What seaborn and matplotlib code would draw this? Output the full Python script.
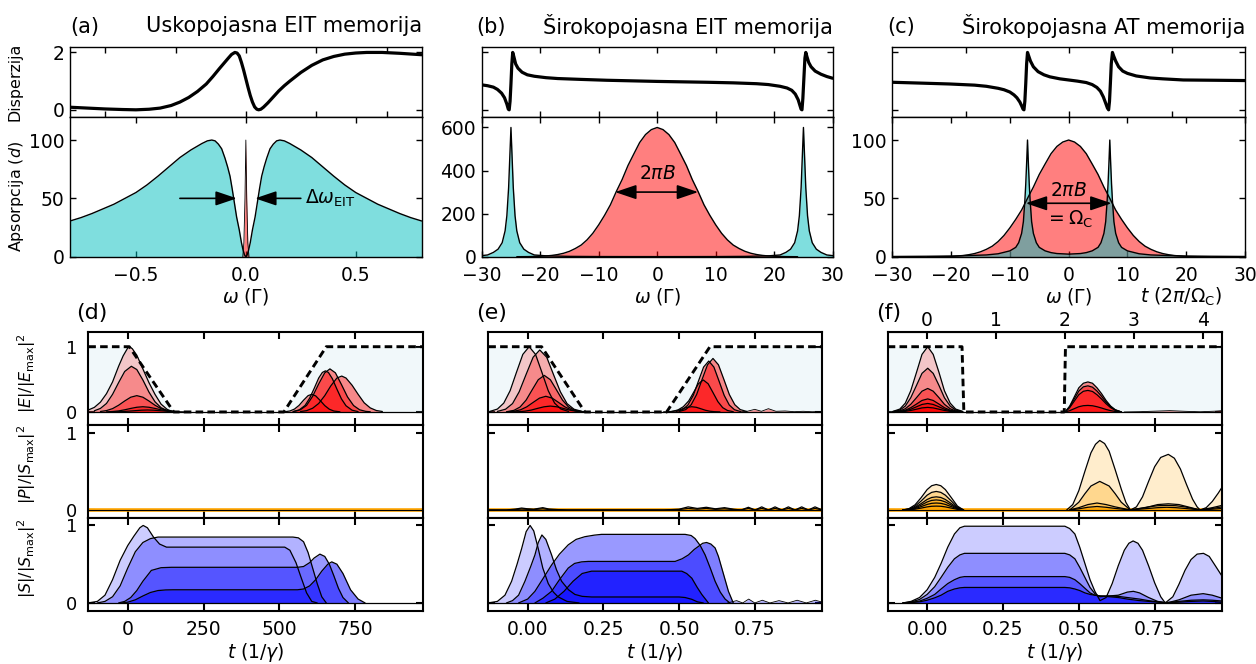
import matplotlib
matplotlib.use("Agg")
import matplotlib.pyplot as plt
import seaborn as sns

sns.set_style("ticks")
plt.rcParams["font.family"] = ["DejaVu Sans"]
plt.rcParams["mathtext.fontset"] = "dejavusans"
for key in ["text.color", "axes.labelcolor", "xtick.color", "ytick.color", "axes.edgecolor"]:
    plt.rcParams[key] = "black"

# ===================== DATA =====================
# ---- (a) narrowband EIT ----
A_DISP_X = [-0.8, -0.72, -0.64, -0.56, -0.5, -0.44, -0.39, -0.34, -0.3, -0.26, -0.22, -0.18, -0.15, -0.12, -0.1,
            -0.08, -0.065, -0.05, -0.04, -0.03, -0.02, -0.01, 0.0, 0.01, 0.02, 0.03, 0.04, 0.05, 0.058, 0.068,
            0.08, 0.1, 0.125, 0.15, 0.175, 0.2, 0.25, 0.3, 0.35, 0.4, 0.45, 0.5, 0.55, 0.62, 0.7, 0.8]
A_DISP_Y = [0.09, 0.06, 0.03, 0.01, 0.0, 0.02, 0.06, 0.15, 0.27, 0.43, 0.64, 0.9, 1.16, 1.44, 1.62,
            1.8, 1.93, 2.0, 1.98, 1.88, 1.65, 1.38, 1.08, 0.78, 0.5, 0.27, 0.1, 0.02, 0.0, 0.02,
            0.09, 0.24, 0.45, 0.66, 0.84, 1.0, 1.3, 1.55, 1.74, 1.86, 1.94, 1.98, 2.0, 2.0, 1.97, 1.92]
A_ABS_X = [-0.8, -0.75, -0.7, -0.65, -0.6, -0.55, -0.5, -0.45, -0.4, -0.35, -0.3, -0.25, -0.2, -0.175, -0.155,
           -0.14, -0.125, -0.11, -0.095, -0.083, -0.072, -0.062, -0.052, -0.042, -0.03, -0.02, -0.013, -0.006, 0.0,
           0.006, 0.013, 0.02, 0.03, 0.042, 0.052, 0.062, 0.072, 0.083, 0.095, 0.11, 0.125, 0.14, 0.155, 0.175,
           0.2, 0.25, 0.3, 0.35, 0.4, 0.45, 0.5, 0.55, 0.6, 0.65, 0.7, 0.75, 0.8]
A_ABS_Y = [30.6, 33.5, 37, 41, 45, 50, 55, 61.5, 69, 77, 85, 91.5, 97, 99.3, 100,
           99.3, 96.5, 92.5, 84.5, 77, 69, 58, 46, 34, 23, 12, 6, 1.5, 0,
           1.5, 6, 12, 23, 34, 46, 58, 69, 77, 84.5, 92.5, 96.5, 99.3, 100, 99.3,
           97, 91.5, 85, 77, 69, 61.5, 55, 50, 45, 41, 37, 33.5, 30.6]
A_PULSE_X = [-0.014, -0.009, -0.004, 0.0, 0.004, 0.009, 0.014]
A_PULSE_Y = [0, 12, 50, 100, 50, 12, 0]

# ---- (b) broadband EIT ----
B_DISP_X = [-30, -29, -28, -27.3, -26.6, -26.1, -25.7, -25.45, -25.3, -25.15, -25.0, -24.85, -24.7, -24.5, -24.2,
            -23.8, -23.1, -22.2, -21, -19, -17, -13, -8.6, 0, 8.6, 13, 17, 19, 21, 22.2, 23, 23.6, 24.1, 24.4,
            24.6, 24.75, 24.9, 25.1, 25.25, 25.4, 25.6, 25.9, 26.3, 27, 28, 29, 30]
B_DISP_Y = [0.87, 0.84, 0.79, 0.71, 0.58, 0.42, 0.2, 0.02, 0.0, 0.3, 0.9, 1.6, 2.0, 1.85, 1.6,
            1.45, 1.31, 1.22, 1.17, 1.12, 1.09, 1.06, 1.03, 0.99, 0.96, 0.94, 0.91, 0.88, 0.82, 0.76, 0.68, 0.55,
            0.35, 0.15, 0.02, 0.0, 0.4, 1.2, 1.8, 2.0, 1.85, 1.65, 1.5, 1.35, 1.24, 1.16, 1.1]
B_ABS_X = [-30, -29, -28, -27.2, -26.5, -26, -25.7, -25.4, -25.2, -25, -24.8, -24.6, -24.3, -24, -23.5, -22.8,
           -22, -21, -19, -15, -10, -5, 0, 5, 10, 15, 19, 21, 22, 22.8, 23.5, 24, 24.3, 24.6, 24.8, 25,
           25.2, 25.4, 25.7, 26, 26.5, 27.2, 28, 29, 30]
B_ABS_Y = [5, 8, 20, 35, 65, 120, 190, 320, 460, 600, 460, 320, 190, 120, 65, 35,
           20, 8, 4, 1.5, 0.7, 0.5, 0.4, 0.5, 0.7, 1.5, 4, 8, 20, 35, 65, 120, 190, 320, 460, 600,
           460, 320, 190, 120, 65, 35, 20, 8, 5]
B_PULSE_X = [-24, -22, -20, -19, -18, -17, -16, -15, -14, -13, -12, -11, -10, -9, -8, -7, -6, -5, -4, -3, -2, -1,
             0, 1, 2, 3, 4, 5, 6, 7, 8, 9, 10, 11, 12, 13, 14, 15, 16, 17, 18, 19, 20, 22, 24]
B_PULSE_Y = [0, 0.5, 2, 3.5, 6, 10, 16, 25, 38, 54, 78, 109, 148, 192, 241, 302, 358, 423, 477, 530, 567, 590,
             600, 590, 567, 530, 477, 423, 358, 302, 241, 192, 148, 109, 78, 54, 38, 25, 16, 10, 6, 3.5, 2, 0.5, 0]

# ---- (c) broadband AT ----
C_DISP_X = [-30, -25, -20.2, -16, -14, -12, -11, -10, -9.3, -8.8, -8.3, -8.0, -7.75, -7.6, -7.45, -7.3, -7.15,
            -7.0, -6.8, -6.5, -6.0, -5.2, -4.2, -3.2, -1.5, 0, 1.5, 3, 4, 4.8, 5.4, 5.9, 6.3, 6.6, 6.8, 6.95,
            7.1, 7.25, 7.45, 7.65, 8.0, 8.5, 9.2, 10, 11.5, 13.9, 16, 19.5, 25, 30]
C_DISP_Y = [0.96, 0.93, 0.9, 0.86, 0.82, 0.75, 0.7, 0.62, 0.52, 0.42, 0.27, 0.14, 0.02, 0.0, 0.3, 0.9, 1.6,
            2.0, 1.88, 1.7, 1.5, 1.33, 1.22, 1.15, 1.08, 1.04, 1.0, 0.95, 0.88, 0.78, 0.65, 0.45, 0.23, 0.06, 0.0,
            0.3, 0.92, 1.6, 2.0, 1.88, 1.7, 1.5, 1.35, 1.27, 1.18, 1.11, 1.08, 1.04, 1.03, 1.02]
C_ABS_X = [-30, -20, -14, -12, -10, -9, -8.5, -8, -7.7, -7.45, -7.3, -7.15, -7, -6.85, -6.7, -6.55, -6.3, -6,
           -5.5, -5, -4, -3, -2, 0, 2, 3, 4, 5, 5.5, 6, 6.3, 6.55, 6.7, 6.85, 7, 7.15, 7.3, 7.45, 7.7, 8,
           8.5, 9, 10, 12, 14, 20, 30]
C_ABS_Y = [0.2, 0.5, 1.5, 2.5, 5, 8, 12, 20, 30, 48, 62, 80, 100, 80, 62, 48, 30, 20,
           12, 8, 5, 3.5, 2.7, 2.2, 2.7, 3.5, 5, 8, 12, 20, 30, 48, 62, 80, 100, 80, 62, 48, 30, 20,
           12, 8, 5, 2.5, 1.5, 0.5, 0.2]
C_PULSE_X = B_PULSE_X
C_PULSE_Y = [0, 0.1, 0.3, 0.6, 1, 1.7, 2.7, 4.2, 6.3, 9, 13, 18.2, 24.7, 32, 40, 50, 59.7, 70.5, 79.5, 88.3,
             94.5, 98.3, 100, 98.3, 94.5, 88.3, 79.5, 70.5, 59.7, 50, 40, 32, 24.7, 18.2, 13, 9, 6.3, 4.2, 2.7,
             1.7, 1, 0.6, 0.3, 0.1, 0]

# ---- (d) narrowband EIT, time domain (t in 1/gamma) ----
D_CTRL_T = [-130, 5, 152, 515, 655, 973]
D_CTRL_Y = [1, 1, 0, 0, 1, 1]
D_EIN_T = [
    [-130, -110, -90, -70, -50, -30, -15, 0, 5, 15, 30, 50, 70, 90, 110, 130, 150],
    [-110, -90, -70, -50, -30, -10, 12, 30, 50, 70, 90, 110, 130, 150],
    [-90, -70, -50, -30, -10, 10, 30, 50, 70, 90, 110, 130, 150],
    [-70, -50, -30, -10, 10, 30, 50, 70, 90, 110, 130, 150, 170],
    [-55, -35, -15, 5, 25, 45, 65, 85, 105, 125, 145, 165, 185],
]
D_EIN_Y = [
    [0.03, 0.07, 0.15, 0.28, 0.46, 0.7, 0.86, 0.98, 1.0, 0.97, 0.87, 0.66, 0.45, 0.27, 0.12, 0.04, 0.0],
    [0.018, 0.054, 0.13, 0.27, 0.45, 0.62, 0.70, 0.65, 0.49, 0.305, 0.156, 0.065, 0.022, 0.006],
    [0.007, 0.021, 0.051, 0.103, 0.168, 0.226, 0.25, 0.226, 0.168, 0.103, 0.051, 0.021, 0.007],
    [0.002, 0.007, 0.016, 0.033, 0.054, 0.072, 0.08, 0.072, 0.054, 0.033, 0.016, 0.007, 0.002],
    [0.001, 0.003, 0.007, 0.013, 0.02, 0.027, 0.03, 0.027, 0.02, 0.013, 0.007, 0.003, 0.001],
]
D_EOUT_T = [
    [570, 590, 610, 630, 650, 670, 690, 706, 720, 740, 760, 780, 800, 820, 840],
    [550, 570, 590, 610, 630, 650, 667, 685, 705, 725, 745, 765, 785, 800],
    [545, 565, 585, 600, 615, 630, 642, 652, 662, 675, 690, 705, 720, 740, 760],
    [520, 535, 550, 565, 580, 595, 607, 620, 635, 650, 665, 680, 700],
]
D_EOUT_Y = [
    [0.006, 0.02, 0.057, 0.13, 0.25, 0.40, 0.52, 0.55, 0.52, 0.41, 0.27, 0.14, 0.062, 0.022, 0.007],
    [0.009, 0.035, 0.10, 0.24, 0.43, 0.60, 0.66, 0.60, 0.42, 0.23, 0.098, 0.033, 0.009, 0.003],
    [0.006, 0.029, 0.10, 0.21, 0.36, 0.52, 0.605, 0.63, 0.605, 0.51, 0.35, 0.20, 0.095, 0.027, 0.005],
    [0.004, 0.015, 0.044, 0.10, 0.18, 0.25, 0.27, 0.246, 0.175, 0.097, 0.042, 0.014, 0.002],
]
D_S_T = [
    [-130, -100, -75, -50, -25, 0, 20, 40, 51, 65, 85, 105, 128, 300, 518, 535, 555, 570, 590, 607, 625],
    [-100, -75, -50, -25, 0, 25, 50, 75, 100, 125, 300, 545, 563, 580, 595, 610, 625, 640, 655],
    [-30, -10, 10, 30, 50, 78, 110, 144, 300, 560, 580, 600, 615, 634, 650, 665, 680, 695, 710, 728],
    [-20, 0, 25, 50, 75, 100, 125, 150, 300, 560, 580, 600, 620, 640, 660, 673, 690, 710, 735, 760, 783],
]
D_S_Y = [
    [0, 0.02, 0.1, 0.3, 0.55, 0.74, 0.86, 0.97, 1.0, 0.97, 0.85, 0.76, 0.72, 0.72, 0.72, 0.68, 0.52, 0.35, 0.13,
     0.02, 0],
    [0, 0.02, 0.08, 0.22, 0.45, 0.66, 0.78, 0.83, 0.85, 0.85, 0.85, 0.85, 0.84, 0.79, 0.65, 0.45, 0.25, 0.08, 0],
    [0, 0.02, 0.07, 0.16, 0.28, 0.42, 0.455, 0.46, 0.46, 0.46, 0.47, 0.52, 0.58, 0.63, 0.6, 0.5, 0.35, 0.19, 0.07, 0],
    [0, 0.01, 0.04, 0.09, 0.135, 0.16, 0.168, 0.17, 0.17, 0.17, 0.18, 0.22, 0.3, 0.41, 0.5, 0.53, 0.5, 0.38, 0.17,
     0.05, 0],
]

# ---- (e) broadband EIT, time domain ----
E_CTRL_T = [-0.13, 0.046, 0.189, 0.459, 0.602, 0.973]
E_CTRL_Y = [1, 1, 0, 0, 1, 1]
E_EIN_T = [
    [-0.125, -0.1, -0.079, -0.058, -0.037, -0.016, 0.005, 0.026, 0.047, 0.068, 0.089, 0.11, 0.135],
    [-0.1, -0.073, -0.05, -0.028, -0.005, 0.018, 0.04, 0.063, 0.085, 0.108, 0.13, 0.153, 0.18],
    [-0.069, -0.045, -0.025, -0.005, 0.015, 0.035, 0.055, 0.075, 0.095, 0.115, 0.135, 0.155, 0.179],
    [-0.07, -0.045, -0.024, -0.003, 0.018, 0.039, 0.06, 0.081, 0.102, 0.123, 0.144, 0.165, 0.19],
    [-0.055, -0.03, -0.009, 0.012, 0.033, 0.054, 0.075, 0.096, 0.117, 0.138, 0.159, 0.18, 0.205],
]
E_EIN_Y = [
    [0.008, 0.044, 0.135, 0.325, 0.607, 0.882, 1.0, 0.882, 0.607, 0.325, 0.135, 0.044, 0.008],
    [0.008, 0.042, 0.128, 0.309, 0.577, 0.838, 0.95, 0.838, 0.577, 0.309, 0.128, 0.042, 0.008],
    [0.004, 0.025, 0.076, 0.182, 0.34, 0.494, 0.56, 0.494, 0.34, 0.182, 0.076, 0.025, 0.004],
    [0.002, 0.011, 0.032, 0.078, 0.146, 0.212, 0.24, 0.212, 0.146, 0.078, 0.032, 0.011, 0.002],
    [0.001, 0.004, 0.012, 0.029, 0.055, 0.079, 0.09, 0.079, 0.055, 0.029, 0.012, 0.004, 0.001],
]
E_EOUT_T = [
    [0.5, 0.522, 0.54, 0.558, 0.576, 0.594, 0.612, 0.63, 0.648, 0.666, 0.684, 0.702, 0.724],
    [0.49, 0.511, 0.529, 0.547, 0.564, 0.581, 0.598, 0.615, 0.632, 0.649, 0.666, 0.683, 0.703],
    [0.475, 0.496, 0.514, 0.532, 0.548, 0.564, 0.58, 0.596, 0.612, 0.628, 0.644, 0.66, 0.679],
    [0.449, 0.467, 0.482, 0.497, 0.512, 0.527, 0.542, 0.557, 0.572, 0.587, 0.602, 0.617, 0.635],
]
E_EOUT_Y = [
    [0.007, 0.036, 0.111, 0.267, 0.498, 0.723, 0.82, 0.723, 0.498, 0.267, 0.111, 0.036, 0.007],
    [0.006, 0.034, 0.105, 0.254, 0.473, 0.688, 0.78, 0.688, 0.473, 0.254, 0.105, 0.034, 0.006],
    [0.006, 0.03, 0.08, 0.17, 0.3, 0.432, 0.49, 0.432, 0.297, 0.159, 0.066, 0.022, 0.004],
    [0.001, 0.004, 0.011, 0.026, 0.049, 0.071, 0.08, 0.071, 0.049, 0.026, 0.011, 0.004, 0.001],
]
E_ETAIL_T = [0.7, 0.725, 0.75, 0.772, 0.795, 0.82, 0.85, 0.88, 0.91, 0.94, 0.973]
E_ETAIL_Y = [0, 0.01, 0.04, 0.01, 0.05, 0.01, 0.015, 0.004, 0.01, 0.003, 0.008]
E_P_T = [-0.13, -0.07, -0.04, -0.02, 0.0, 0.02, 0.05, 0.07, 0.1, 0.13, 0.45, 0.5, 0.53, 0.56, 0.59, 0.62, 0.65,
         0.68, 0.705, 0.729, 0.751, 0.773, 0.795, 0.817, 0.839, 0.861, 0.883, 0.905, 0.927, 0.949, 0.973]
E_P_Y = [
    [0, 0, 0.012, 0.025, 0.015, 0.01, 0.03, 0.012, 0.005, 0, 0, 0.01, 0.04, 0.02, 0.035, 0.015, 0.03, 0.01,
     0.0, 0.035, 0.0, 0.04, 0.0, 0.04, 0.0, 0.04, 0.0, 0.04, 0.0, 0.04, 0.0],
    [0, 0, 0.005, 0.012, 0.008, 0.005, 0.015, 0.006, 0.002, 0, 0, 0.005, 0.02, 0.01, 0.02, 0.008, 0.015, 0.005,
     0.0, 0.02, 0.0, 0.02, 0.0, 0.02, 0.0, 0.02, 0.0, 0.02, 0.0, 0.02, 0.0],
]
E_S_T = [
    [-0.13, -0.1, -0.075, -0.053, -0.035, -0.02, -0.005, 0.008, 0.02, 0.035, 0.05, 0.068, 0.085, 0.1, 0.13, 0.17],
    [-0.07, -0.05, -0.03, -0.009, 0.01, 0.024, 0.035, 0.047, 0.06, 0.079, 0.095, 0.112, 0.135, 0.156, 0.18,
     0.211, 0.5, 0.52, 0.542, 0.56, 0.58],
    [-0.03, 0.0, 0.024, 0.05, 0.079, 0.105, 0.134, 0.16, 0.189, 0.22, 0.244, 0.52, 0.54, 0.553, 0.57, 0.586,
     0.603, 0.619, 0.636, 0.652, 0.668],
    [0.024, 0.05, 0.079, 0.105, 0.134, 0.155, 0.178, 0.2, 0.487, 0.51, 0.531, 0.55, 0.564, 0.578, 0.591, 0.605,
     0.619, 0.63, 0.641, 0.652, 0.663, 0.679],
    [0.06, 0.09, 0.12, 0.15, 0.18, 0.211, 0.509, 0.525, 0.542, 0.56, 0.575, 0.597],
]
E_S_Y = [
    [0, 0.02, 0.1, 0.28, 0.5, 0.7, 0.92, 1.0, 0.93, 0.7, 0.45, 0.25, 0.14, 0.08, 0.02, 0],
    [0, 0.03, 0.1, 0.28, 0.47, 0.62, 0.78, 0.877, 0.82, 0.62, 0.43, 0.28, 0.17, 0.11, 0.085, 0.077, 0.077, 0.07,
     0.047, 0.015, 0],
    [0, 0.05, 0.15, 0.31, 0.49, 0.63, 0.75, 0.82, 0.855, 0.875, 0.885, 0.885, 0.87, 0.83, 0.74, 0.62, 0.45, 0.28,
     0.14, 0.05, 0],
    [0, 0.06, 0.15, 0.3, 0.45, 0.51, 0.53, 0.536, 0.536, 0.57, 0.62, 0.69, 0.73, 0.77, 0.78, 0.76, 0.71, 0.6,
     0.45, 0.3, 0.15, 0],
    [0, 0.05, 0.15, 0.28, 0.38, 0.41, 0.41, 0.38, 0.32, 0.2, 0.11, 0],
]
E_STAIL_T = [0.66, 0.69, 0.71, 0.73, 0.75, 0.775, 0.8, 0.83, 0.86, 0.89, 0.92, 0.95, 0.973]
E_STAIL_Y = [0, 0.03, 0.0, 0.05, 0.0, 0.035, 0.0, 0.03, 0.0, 0.035, 0.0, 0.035, 0.01]

# ---- (f) broadband AT, time domain ----
F_CTRL_T = [-0.13, 0.115, 0.121, 0.452, 0.456, 0.973]
F_CTRL_Y = [1, 1, 0, 0, 1, 1]
F_EIN_T = [-0.113, -0.09, -0.072, -0.054, -0.035, -0.017, 0.002, 0.02, 0.039, 0.057, 0.076, 0.094, 0.117]
F_EIN_Y = [
    [0.008, 0.044, 0.135, 0.325, 0.607, 0.882, 1.0, 0.882, 0.607, 0.325, 0.135, 0.044, 0.008],
    [0.005, 0.029, 0.09, 0.218, 0.407, 0.591, 0.67, 0.591, 0.407, 0.218, 0.09, 0.029, 0.005],
    [0.003, 0.016, 0.049, 0.117, 0.219, 0.318, 0.36, 0.318, 0.219, 0.117, 0.049, 0.016, 0.003],
    [0.002, 0.009, 0.027, 0.065, 0.121, 0.176, 0.2, 0.176, 0.121, 0.065, 0.027, 0.009, 0.002],
    [0.001, 0.006, 0.018, 0.042, 0.079, 0.115, 0.13, 0.115, 0.079, 0.042, 0.018, 0.006, 0.001],
    [0.001, 0.003, 0.009, 0.023, 0.042, 0.062, 0.07, 0.062, 0.042, 0.023, 0.009, 0.003, 0.001],
]
F_EOUT_T = [0.455, 0.47, 0.485, 0.5, 0.515, 0.53, 0.545, 0.56, 0.575, 0.59, 0.605, 0.62, 0.64]
F_EOUT_Y = [
    [0, 0.09, 0.23, 0.37, 0.44, 0.46, 0.44, 0.37, 0.28, 0.175, 0.09, 0.035, 0],
    [0, 0.08, 0.2, 0.32, 0.385, 0.4, 0.38, 0.32, 0.24, 0.15, 0.08, 0.03, 0],
    [0, 0.066, 0.165, 0.264, 0.317, 0.33, 0.314, 0.264, 0.198, 0.125, 0.066, 0.026, 0],
    [0, 0.02, 0.05, 0.08, 0.096, 0.1, 0.095, 0.08, 0.06, 0.038, 0.02, 0.008, 0],
]
F_ETAIL_T = [0.65, 0.7, 0.75, 0.8, 0.85, 0.9, 0.95, 0.973]
F_ETAIL_Y = [0, 0.004, 0.012, 0.02, 0.01, 0.003, 0.012, 0.02]
F_PIN_T = [-0.08, -0.06, -0.04, -0.02, 0.0, 0.015, 0.03, 0.045, 0.06, 0.08, 0.1, 0.12]
F_PIN_Y = [
    [0, 0.017, 0.066, 0.158, 0.264, 0.314, 0.33, 0.314, 0.264, 0.158, 0.05, 0],
    [0, 0.012, 0.048, 0.115, 0.192, 0.228, 0.24, 0.228, 0.192, 0.115, 0.036, 0],
    [0, 0.009, 0.034, 0.082, 0.136, 0.162, 0.17, 0.162, 0.136, 0.082, 0.026, 0],
    [0, 0.007, 0.026, 0.062, 0.104, 0.124, 0.13, 0.124, 0.104, 0.062, 0.02, 0],
    [0, 0.005, 0.018, 0.043, 0.072, 0.086, 0.09, 0.086, 0.072, 0.043, 0.014, 0],
    [0, 0.003, 0.01, 0.024, 0.04, 0.048, 0.05, 0.048, 0.04, 0.024, 0.008, 0],
]
F_POUT_T = [
    [0.46, 0.48, 0.5, 0.52, 0.54, 0.555, 0.569, 0.585, 0.6, 0.62, 0.64, 0.655, 0.67, 0.69, 0.71, 0.73, 0.75,
     0.77, 0.795, 0.815, 0.835, 0.855, 0.875, 0.89, 0.9, 0.92, 0.94, 0.96, 0.973],
    [0.47, 0.5, 0.52, 0.54, 0.569, 0.6, 0.62, 0.64, 0.67, 0.72, 0.76, 0.795, 0.83, 0.87, 0.9, 0.94, 0.973],
    [0.47, 0.5, 0.53, 0.56, 0.59, 0.62, 0.67, 0.7, 0.73, 0.76, 0.79, 0.82, 0.85, 0.9, 0.94, 0.973],
    [0.47, 0.5, 0.53, 0.56, 0.59, 0.62, 0.67, 0.7, 0.73, 0.76, 0.79, 0.82, 0.85, 0.9, 0.94, 0.973],
]
F_POUT_Y = [
    [0, 0.07, 0.25, 0.5, 0.74, 0.85, 0.9, 0.86, 0.76, 0.52, 0.27, 0.1, 0, 0.04, 0.17, 0.37, 0.56, 0.68, 0.72,
     0.67, 0.53, 0.33, 0.14, 0.04, 0, 0.03, 0.11, 0.22, 0.3],
    [0, 0.1, 0.21, 0.31, 0.37, 0.31, 0.21, 0.1, 0, 0.03, 0.07, 0.08, 0.07, 0.03, 0, 0.03, 0.06],
    [0, 0.03, 0.07, 0.09, 0.07, 0.04, 0, 0.02, 0.04, 0.055, 0.06, 0.055, 0.04, 0, 0.02, 0.04],
    [0, 0.015, 0.035, 0.045, 0.035, 0.02, 0, 0.01, 0.02, 0.03, 0.035, 0.03, 0.02, 0, 0.01, 0.02],
]
F_S1_T = [-0.08, -0.053, -0.025, 0.0, 0.025, 0.046, 0.068, 0.09, 0.108, 0.123, 0.3, 0.454, 0.47, 0.487, 0.503,
          0.52, 0.537, 0.553, 0.57, 0.59, 0.61, 0.63, 0.65, 0.665, 0.679, 0.695, 0.71, 0.73, 0.75, 0.77, 0.785,
          0.81, 0.83, 0.85, 0.87, 0.89, 0.911, 0.93, 0.95, 0.973]
F_S1_Y = [0, 0.02, 0.07, 0.17, 0.33, 0.51, 0.72, 0.89, 0.97, 0.99, 0.99, 0.99, 0.96, 0.89, 0.72, 0.51, 0.3,
          0.15, 0.03, 0.07, 0.25, 0.48, 0.68, 0.77, 0.8, 0.77, 0.68, 0.48, 0.26, 0.08, 0.0, 0.08, 0.24, 0.42,
          0.56, 0.63, 0.64, 0.6, 0.48, 0.34]
F_S_T = [-0.08, -0.053, -0.025, 0.0, 0.025, 0.046, 0.068, 0.09, 0.108, 0.123, 0.3, 0.454, 0.47, 0.487, 0.503,
         0.52, 0.537, 0.553, 0.57, 0.6, 0.63, 0.66, 0.68, 0.7, 0.73, 0.76, 0.79, 0.83, 0.87, 0.91, 0.94, 0.973]
F_S_Y = [
    [0, 0.013, 0.045, 0.11, 0.21, 0.33, 0.46, 0.57, 0.62, 0.64, 0.64, 0.64, 0.62, 0.57, 0.46, 0.33, 0.2, 0.12,
     0.08, 0.09, 0.1, 0.14, 0.15, 0.13, 0.07, 0.02, 0, 0.04, 0.1, 0.12, 0.1, 0.06],
    [0, 0.007, 0.024, 0.06, 0.11, 0.18, 0.25, 0.3, 0.33, 0.34, 0.34, 0.34, 0.33, 0.3, 0.25, 0.19, 0.13, 0.1,
     0.09, 0.09, 0.085, 0.07, 0.06, 0.05, 0.03, 0.015, 0.005, 0.02, 0.035, 0.04, 0.035, 0.025],
    [0, 0.004, 0.014, 0.035, 0.066, 0.1, 0.15, 0.18, 0.195, 0.2, 0.2, 0.2, 0.195, 0.18, 0.16, 0.13, 0.11, 0.1,
     0.09, 0.08, 0.07, 0.05, 0.04, 0.03, 0.02, 0.01, 0.0, 0.01, 0.02, 0.025, 0.02, 0.01],
]

TITLES = ["Uskopojasna EIT memorija", "Širokopojasna EIT memorija", "Širokopojasna AT memorija"]
TOP_LETTERS = ["(a)", "(b)", "(c)"]
BOT_LETTERS = ["(d)", "(e)", "(f)"]

# ===================== FIGURE =====================
W, H = 1256, 664
fig = plt.figure(figsize=(W / 100, H / 100), dpi=100)
FS = 13.5
CYAN, RED, BLUE, ORANGE = "c", "r", "b", "orange"
STACK_ALPHA = [0.2, 0.3, 0.4, 0.5, 0.55, 0.6]
OUT_ALPHA = 0.45


def add_ax(l, t, r, b):
    return fig.add_axes([l / W, 1 - b / H, (r - l) / W, (b - t) / H])


def line(ax, x, y, color="k", lw=1.0, z=3):
    sns.lineplot(x=x, y=y, ax=ax, color=color, lw=lw, estimator=None, sort=False,
                 legend=False, zorder=z)
    return ax.get_lines()[-1]


def band(ax, x, y, color, alpha, lw=0.9, z=2):
    ax.fill_between(x, 0, y, color=color, alpha=alpha, lw=0, zorder=z)
    line(ax, x, y, lw=lw, z=z + 0.5)


# ---------------- top row ----------------
TOPX = [(70, 421.7), (481.7, 832.7), (892.3, 1245)]
disp_data = [(A_DISP_X, A_DISP_Y), (B_DISP_X, B_DISP_Y), (C_DISP_X, C_DISP_Y)]
abs_data = [(A_ABS_X, A_ABS_Y), (B_ABS_X, B_ABS_Y), (C_ABS_X, C_ABS_Y)]
pulse_data = [(A_PULSE_X, A_PULSE_Y), (B_PULSE_X, B_PULSE_Y), (C_PULSE_X, C_PULSE_Y)]
xlims = [(-0.8, 0.8), (-30, 30), (-30, 30)]
disp_ticks = [[-0.64, -0.32, 0, 0.32, 0.64], [-20, -10, 0, 10, 20], [-17.5, 0, 17.5]]
abs_xticks = [[-0.5, 0.0, 0.5], list(range(-30, 31, 10)), list(range(-30, 31, 10))]
abs_yticks = [[0, 50, 100], [0, 200, 400, 600], [0, 50, 100]]
abs_ylims = [(0, 120), (0, 650), (0, 120)]

for i, (l, r) in enumerate(TOPX):
    axd = add_ax(l, 46.7, r, 116.7)
    axa = add_ax(l, 116.7, r, 256.7)
    for ax in (axd, axa):
        for s in ax.spines.values():
            s.set_linewidth(1.0)
        ax.tick_params(direction="in", top=True, right=True, length=4, width=1.0, labelsize=FS, pad=4)
        ax.tick_params(axis="x", pad=6.5)
    # dispersion
    line(axd, disp_data[i][0], disp_data[i][1], lw=2.3)
    axd.set_xlim(*xlims[i])
    axd.set_ylim(-0.24, 2.2)
    axd.set_xticks(disp_ticks[i])
    axd.set_xticklabels([])
    axd.set_yticks([0, 2])
    if i == 0:
        axd.set_yticklabels(["0", "2"])
        axd.set_ylabel("Disperzija", fontsize=11.4)
        axd.yaxis.set_label_coords(-0.134, 0.5)
    else:
        axd.set_yticklabels([])
    # absorption
    plw = 0.6 if i == 0 else 1.0
    if i == 2:
        band(axa, pulse_data[i][0], pulse_data[i][1], RED, 0.5, lw=1.0)
        band(axa, abs_data[i][0], abs_data[i][1], CYAN, 0.5, lw=1.0)
    else:
        band(axa, abs_data[i][0], abs_data[i][1], CYAN, 0.5, lw=1.0)
        band(axa, pulse_data[i][0], pulse_data[i][1], RED, 0.5, lw=plw)
    axa.set_xlim(*xlims[i])
    axa.set_ylim(*abs_ylims[i])
    axa.set_xticks(abs_xticks[i])
    axa.set_yticks(abs_yticks[i])
    axa.set_xlabel(r"$\omega$ ($\Gamma$)", fontsize=FS, labelpad=1)
    if i == 0:
        axa.set_ylabel(r"Apsorpcija ($d$)", fontsize=11.4)
        axa.yaxis.set_label_coords(-0.125, 0.43)
    # titles
    fig.text([70, 476, 887][i] / W, 1 - 26.5 / H, TOP_LETTERS[i], fontsize=15, ha="left", va="center")
    fig.text(r / W, 1 - 26.5 / H, TITLES[i], fontsize=15, ha="right", va="center")

    head = "-|>,head_length=0.65,head_width=0.22"
    dhead = "<|-|>,head_length=0.65,head_width=0.22"
    if i == 0:
        kw = dict(arrowstyle=head, color="k", lw=1.2, mutation_scale=20, shrinkA=0, shrinkB=0)
        axa.annotate("", xy=(-0.041, 50), xytext=(-0.30, 50), arrowprops=kw)
        axa.annotate("", xy=(0.042, 50), xytext=(0.25, 50), arrowprops=kw)
        axa.text(0.27, 50, r"$\Delta\omega_{\rm EIT}$", fontsize=FS, va="center", ha="left")
    elif i == 1:
        kw = dict(arrowstyle=dhead, color="k", lw=1.2, mutation_scale=20, shrinkA=0, shrinkB=0)
        axa.annotate("", xy=(7.0, 300), xytext=(-7.2, 300), arrowprops=kw)
        axa.text(0, 388, r"$2\pi B$", fontsize=FS, ha="center", va="center")
    else:
        kw = dict(arrowstyle=dhead, color="k", lw=1.2, mutation_scale=20, shrinkA=0, shrinkB=0)
        axa.annotate("", xy=(7.3, 45.8), xytext=(-7.3, 45.8), arrowprops=kw)
        axa.text(0, 57, r"$2\pi B$", fontsize=FS, ha="center", va="center")
        axa.text(0, 32, r"$=\Omega_{\rm C}$", fontsize=FS, ha="center", va="center")

# ---------------- bottom rows ----------------
BOTX = [(88.3, 422.7), (488.3, 822.3), (887.7, 1222.3)]
ROWS = [331.7, 425, 517.7, 610.7]
cols = [
    dict(ctrl=(D_CTRL_T, D_CTRL_Y), ein=(D_EIN_T, D_EIN_Y), eout=(D_EOUT_T, D_EOUT_Y), etail=None,
         p_in=[], p_out=[], s=list(zip(D_S_T, D_S_Y)), stail=None,
         xlim=(-130, 973), xt=[0, 250, 500, 750]),
    dict(ctrl=(E_CTRL_T, E_CTRL_Y), ein=(E_EIN_T, E_EIN_Y), eout=(E_EOUT_T, E_EOUT_Y),
         etail=(E_ETAIL_T, E_ETAIL_Y), p_in=[(E_P_T, y) for y in E_P_Y], p_out=[],
         s=list(zip(E_S_T, E_S_Y)), stail=(E_STAIL_T, E_STAIL_Y),
         xlim=(-0.13, 0.973), xt=[0, 0.25, 0.5, 0.75]),
    dict(ctrl=(F_CTRL_T, F_CTRL_Y), ein=([F_EIN_T] * len(F_EIN_Y), F_EIN_Y),
         eout=([F_EOUT_T] * len(F_EOUT_Y), F_EOUT_Y), etail=(F_ETAIL_T, F_ETAIL_Y),
         p_in=[(F_PIN_T, y) for y in F_PIN_Y], p_out=list(zip(F_POUT_T, F_POUT_Y)),
         s=[(F_S1_T, F_S1_Y)] + [(F_S_T, y) for y in F_S_Y], stail=None,
         xlim=(-0.13, 0.973), xt=[0, 0.25, 0.5, 0.75]),
]
ylabels = [r"$|E|/|E_{\rm max}|^2$", r"$|P|/|S_{\rm max}|^2$", r"$|S|/|S_{\rm max}|^2$"]
ylims = [(-0.2, 1.23), (-0.1, 1.1), (-0.1, 1.1)]
label_y = [0.56, 0.57, 0.57]

for c, (l, r) in enumerate(BOTX):
    d = cols[c]
    axes = [add_ax(l, ROWS[k], r, ROWS[k + 1]) for k in range(3)]
    axE, axP, axS = axes
    # E panel
    ct, cy = d["ctrl"]
    axE.fill_between(ct, 0, cy, color="lightblue", alpha=0.16, lw=0, zorder=1)
    for j, (t, y) in enumerate(zip(*d["ein"])):
        band(axE, t, y, RED, STACK_ALPHA[j])
    for t, y in zip(*d["eout"]):
        band(axE, t, y, RED, OUT_ALPHA)
    if d["etail"] is not None:
        band(axE, d["etail"][0], d["etail"][1], RED, 0.4, lw=0.6)
    ln = line(axE, ct, cy, lw=2.1, z=5)
    ln.set_dashes([2.6, 1.45])
    # P panel
    axP.axhline(0, color=ORANGE, lw=2.6, zorder=1)
    for j, (t, y) in enumerate(d["p_in"]):
        band(axP, t, y, ORANGE, STACK_ALPHA[j])
    for j, (t, y) in enumerate(d["p_out"]):
        band(axP, t, y, ORANGE, STACK_ALPHA[j])
    # S panel
    for j, (t, y) in enumerate(d["s"]):
        band(axS, t, y, BLUE, STACK_ALPHA[j])
    if d["stail"] is not None:
        band(axS, d["stail"][0], d["stail"][1], BLUE, 0.3, lw=0.6)

    for k, ax in enumerate(axes):
        ax.axhline(0, color="k", lw=0.8 if k == 1 else 0.9, zorder=2.6)
        for s in ax.spines.values():
            s.set_linewidth(1.5)
        ax.set_xlim(*d["xlim"])
        ax.set_ylim(*ylims[k])
        ax.set_xticks(d["xt"])
        ax.set_yticks([0, 1])
        ax.tick_params(direction="in", top=True, right=True, length=5, width=1.5, labelsize=FS, pad=7)
        if k < 2:
            ax.set_xticklabels([])
        if c == 0:
            ax.set_ylabel(ylabels[k], fontsize=11.4)
            ax.yaxis.set_label_coords(-0.15, label_y[k])
            ax.tick_params(axis="y", pad=8, labelsize=13)
        else:
            ax.set_yticklabels([])
    axS.set_xlabel(r"$t$ ($1/\gamma$)", fontsize=FS, labelpad=1)
    fig.text([76, 476, 876][c] / W, 1 - 313 / H, BOT_LETTERS[c], fontsize=16, ha="left", va="center")

    if c == 2:
        axE.tick_params(axis="x", top=False)
        period = 0.2273
        sec = axE.secondary_xaxis("top", functions=(lambda t: t / period, lambda u: u * period))
        sec.set_xticks([0, 1, 2, 3, 4])
        sec.tick_params(direction="in", length=5, width=1.5, labelsize=FS, pad=1)
        sec.set_xlabel(r"$t$ ($2\pi/\Omega_{\rm C}$)", fontsize=FS, loc="right", labelpad=6)

fig.savefig("out.png", dpi=100)
